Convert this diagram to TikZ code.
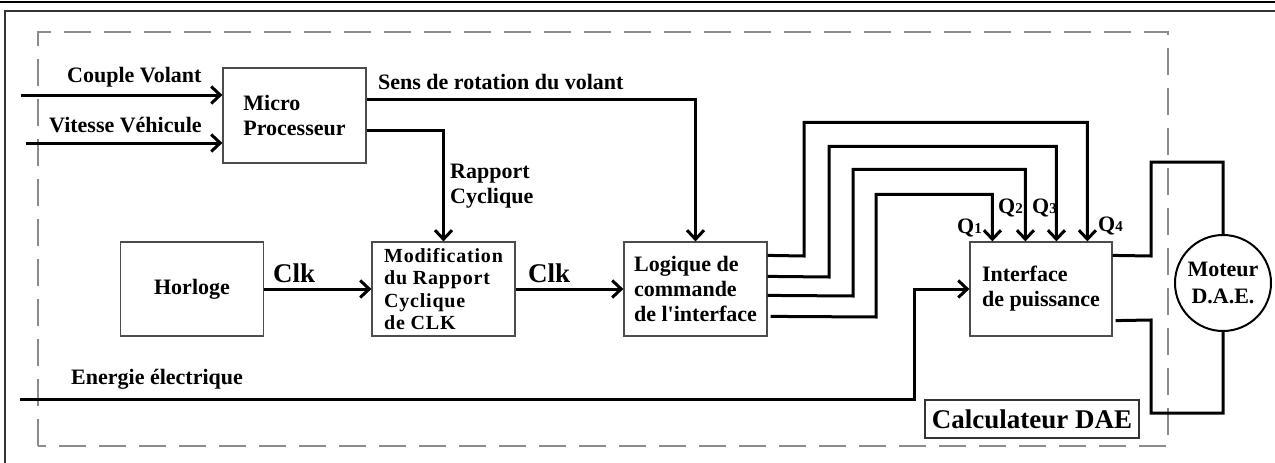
\documentclass[tikz,border=0pt]{standalone}
\usepackage{fontspec}
\setmainfont{Liberation Serif}[Ligatures=TeXOff]
\newfontfamily\spacedfont{Liberation Serif}[LetterSpace=4,Ligatures=TeXOff]
\usetikzlibrary{arrows.meta,calc}

\tikzset{
  blk/.style={draw=black!70, line width=1.2pt, rectangle, inner sep=0pt,
    minimum width=143pt, minimum height=94pt, align=left,
    font=\fontsize{22}{25}\selectfont\bfseries},
  wire/.style={line width=3pt, draw=black},
  arr/.style={-{Straight Barb[length=9pt,width=17pt]}},
  lbl/.style={inner sep=0pt, font=\fontsize{22}{25}\selectfont\bfseries},
  clk/.style={inner sep=0pt, font=\fontsize{27}{30}\selectfont\bfseries},
  frontier/.style={draw=black!45, line width=1.6pt, dash pattern=on 27pt off 13pt},
}

\newcommand{\qlab}[1]{Q{\fontsize{15}{15}\selectfont #1}}

\begin{document}
\begin{tikzpicture}[x=1pt,y=-1pt]
\useasboundingbox (0,0) rectangle (1275,463);

% page frame
\draw[line width=1.4pt] (0,2) -- (1275,2);
\draw[line width=1.8pt, draw=black!80] (5,463) -- (5,11) -- (1275,11);

% boundary of the controller
\draw[frontier] (38,446) -- (38,32) -- (1168,32) -- (1168,446) -- cycle;

% blocks
\node[blk, minimum height=95pt] (mp) at (294.5,115.5) {Micro\\Processeur};
\node[blk] (hor) at (192,289) {Horloge};
\node[blk, font=\fontsize{20}{22.5}\spacedfont\bfseries] (mod) at (443.5,289)
  {Modification\\du Rapport\\Cyclique\\de CLK};
\node[blk] (log) at (695.5,289) {Logique de\\commande\\de l'interface};
\node[blk, minimum width=142pt] (ip) at (1041,289) {Interface\\de puissance};
\node[draw=black, line width=2pt, circle, minimum size=96pt, inner sep=0pt,
  align=center, font=\fontsize{22}{27}\selectfont\bfseries] (mot) at (1223,283)
  {Moteur\\D.A.E.};
\node[draw=black!80, line width=1.4pt, minimum width=214pt, minimum height=38pt,
  inner sep=0pt, font=\fontsize{27}{30}\selectfont\bfseries] (calc) at (1032,419)
  {Calculateur DAE};

% inputs of the microprocessor
\coordinate (cvin) at (21,95);
\coordinate (vvin) at (26,143);
\draw[wire,arr] (cvin) -- (cvin -| mp.west);
\draw[wire,arr] (vvin) -- (vvin -| mp.west);
\node[lbl, anchor=base west] (cvl) at (67,82) {Couple Volant};
\node[lbl, anchor=base west] (vvl) at (49,132) {Vitesse Véhicule};

% outputs of the microprocessor
\draw[wire,arr] ($(mp.north east)+(0,32)$) -| (log.north);
\node[lbl, anchor=base west] (sens) at (378,89) {Sens de rotation du volant};
\draw[wire,arr] ($(mp.north east)+(0,63)$) -| (mod.north);
\node[lbl, anchor=north west, align=left] (rc) at (450,164) {Rapport\\Cyclique};

% clock chain
\draw[wire,arr] (hor.east) -- (mod.west);
\node[clk, anchor=base west] (clk1) at (273,282) {Clk};
\draw[wire,arr] (mod.east) -- (log.west);
\node[clk, anchor=base west] (clk2) at (528,282) {Clk};

% commands Q1..Q4
\coordinate (q1) at ($(ip.north west)+(23,0)$);
\coordinate (q2) at ($(ip.north west)+(56,0)$);
\coordinate (q3) at ($(ip.north west)+(87,0)$);
\coordinate (q4) at ($(ip.north west)+(118,0)$);
\draw[wire,arr] ($(log.north east)+(0,14)$) -- (804,256) |- ($(q4)+(0,-119)$) -- (q4);
\draw[wire,arr] ($(log.north east)+(0,35)$) -- (829,277) |- ($(q3)+(0,-95)$) -- (q3);
\draw[wire,arr] ($(log.north east)+(0,54)$) -- (853,296) |- ($(q2)+(0,-72)$) -- (q2);
\draw[wire,arr] ($(log.north east)+(3,75)$) -- (876,317) |- ($(q1)+(0,-47)$) -- (q1);
\node[lbl, anchor=base west] (lq1) at (957,233) {\qlab{1}};
\node[lbl, anchor=base west] (lq2) at (998,213) {\qlab{2}};
\node[lbl, anchor=base west] (lq3) at (1032,213) {\qlab{3}};
\node[lbl, anchor=base west] (lq4) at (1098,231) {\qlab{4}};

% power supply
\coordinate (ein) at (20,399);
\draw[wire,arr] (ein) -- (914,399) |- (ip.west);
\node[lbl, anchor=base west] (el) at (71,384) {Energie électrique};

% motor connections
\draw[wire] ($(ip.north east)+(0,14)$) -- (1151,256) -- (1151,162) -| (mot.north);
\draw[wire] ($(ip.south east)+(3,-16)$) -- (1151,320) -- (1151,413) -| (mot.south);
\end{tikzpicture}
\end{document}
